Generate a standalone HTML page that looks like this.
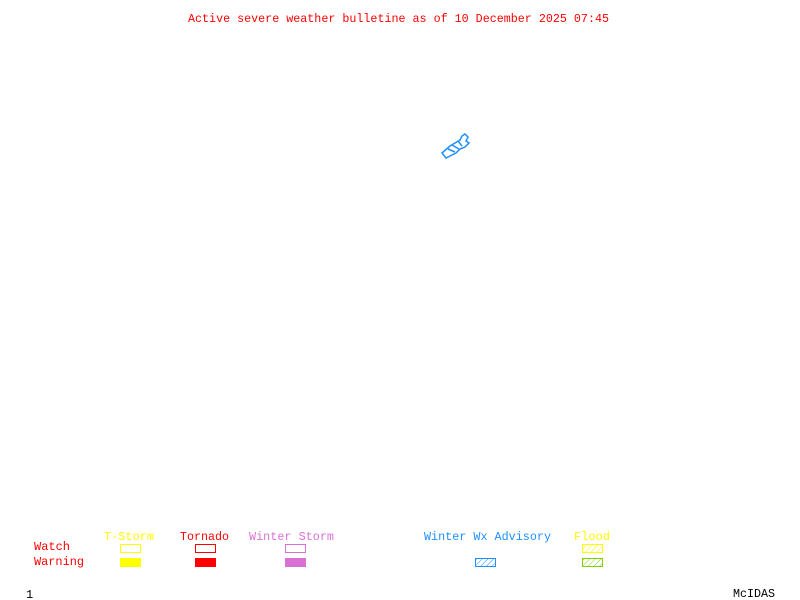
<!DOCTYPE html>
<html><head><style>html,body{margin:0;padding:0;background:#fff;width:800px;height:600px;overflow:hidden}</style></head>
<body>
<svg width="800" height="600" xmlns="http://www.w3.org/2000/svg" font-family="Liberation Mono, monospace" font-size="12">
<defs>
<pattern id="hb" width="4" height="4" patternUnits="userSpaceOnUse" patternTransform="rotate(45)"><line x1="0" y1="0" x2="0" y2="4" stroke="#1e90ff" stroke-width="1"/></pattern>
<pattern id="hy" width="4" height="4" patternUnits="userSpaceOnUse" patternTransform="rotate(45)"><line x1="0" y1="0" x2="0" y2="4" stroke="#ffff00" stroke-width="1"/></pattern>
<pattern id="hg" width="4" height="4" patternUnits="userSpaceOnUse" patternTransform="rotate(45)"><line x1="0" y1="0" x2="0" y2="4" stroke="#7fd000" stroke-width="1"/></pattern>
</defs>
<text x="188" y="22" fill="#ff0000" textLength="421" lengthAdjust="spacingAndGlyphs">Active severe weather bulletine as of 10 December 2025 07:45</text>
<g fill="none" stroke="#1e90ff" stroke-width="1.5">
<path d="M442 153 L450 146 L455 143 L460 140 L462 136 L465 134 L468 137 L466 141 L469 143 L465 147 L460 149 L456 153 L450 156 L446 158 Z"/>
<path d="M448 149 L455 152 M452 145 L459 149 M458 141 L462 146"/>
</g>
<text x="104" y="540" fill="#ffff00" textLength="50" lengthAdjust="spacingAndGlyphs">T-Storm</text>
<text x="180" y="540" fill="#ff0000" textLength="49" lengthAdjust="spacingAndGlyphs">Tornado</text>
<text x="249" y="540" fill="#da70d6" textLength="85" lengthAdjust="spacingAndGlyphs">Winter Storm</text>
<text x="424" y="540" fill="#1e90ff" textLength="127" lengthAdjust="spacingAndGlyphs">Winter Wx Advisory</text>
<text x="574" y="540" fill="#ffff00" textLength="36" lengthAdjust="spacingAndGlyphs">Flood</text>
<text x="34" y="550" fill="#ff0000" textLength="36" lengthAdjust="spacingAndGlyphs">Watch</text>
<text x="34" y="565" fill="#ff0000" textLength="50" lengthAdjust="spacingAndGlyphs">Warning</text>
<rect x="120.5" y="544.5" width="20" height="8" fill="none" stroke="#ffff00"/>
<rect x="120" y="558" width="21" height="9" fill="#ffff00"/>
<rect x="195.5" y="544.5" width="20" height="8" fill="none" stroke="#ff0000"/>
<rect x="195" y="558" width="21" height="9" fill="#ff0000"/>
<rect x="285.5" y="544.5" width="20" height="8" fill="none" stroke="#da70d6"/>
<rect x="285" y="558" width="21" height="9" fill="#da70d6"/>
<rect x="475.5" y="558.5" width="20" height="8" fill="url(#hb)" stroke="#1e90ff"/>
<rect x="582.5" y="544.5" width="20" height="8" fill="url(#hy)" stroke="#ffff00"/>
<rect x="582.5" y="558.5" width="20" height="8" fill="url(#hg)" stroke="#7fd000"/>
<text x="26" y="598" fill="#000">1</text>
<text x="733" y="597" fill="#000" textLength="42" lengthAdjust="spacingAndGlyphs">McIDAS</text>
</svg>
</body></html>
